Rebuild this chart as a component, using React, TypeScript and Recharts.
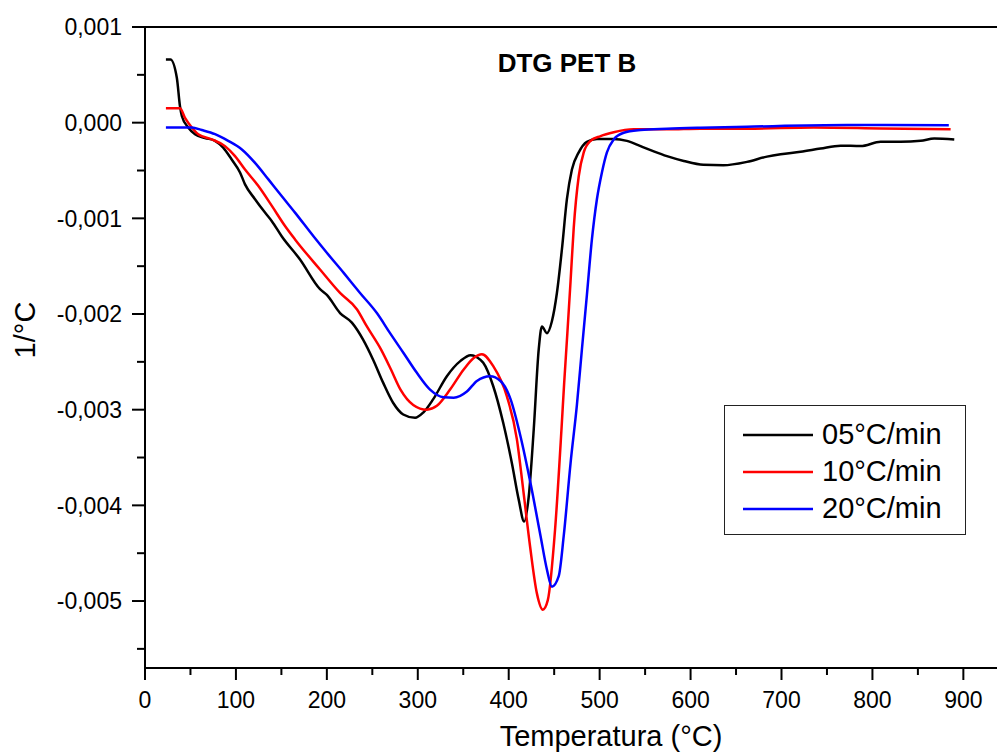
import React from 'react';
import { LineChart, Line, XAxis, YAxis, ReferenceLine, Legend } from 'recharts';

const FONT = '"Liberation Sans", Arial, Helvetica, sans-serif';

// 05 °C/min
const temp05 = [23, 28, 35, 38.5, 40.5, 47.5, 55, 66, 77, 86, 95, 104.5, 110, 121, 132, 139.5, 150.5, 170.5, 192.5, 200, 214.5, 227.5, 240, 251, 262, 273, 284, 297, 306, 317, 332, 347, 358, 369, 372, 383, 394, 403.5, 411, 417, 422, 427.5, 433, 436.5, 442, 447.5, 453, 458.5, 464, 469.5, 477, 486, 497, 515, 530, 545, 559.5, 574, 592.5, 614, 636, 662, 684, 699, 721, 743, 765, 787, 809, 831, 853, 868, 890];
const dtg05 = [0.00066, 0.00066, 0.00047, 0.00017, 0.00007, -0.00005, -0.00012, -0.00016, -0.00019, -0.00026, -0.00038, -0.00052, -0.000645, -0.0008, -0.00094, -0.00103, -0.00119, -0.00143, -0.00174, -0.0018, -0.00199, -0.00209, -0.00227, -0.00248, -0.00272, -0.00293, -0.00305, -0.003085, -0.00303, -0.00289, -0.00265, -0.00249, -0.00243, -0.00248, -0.00251, -0.002755, -0.00314, -0.00356, -0.00394, -0.00417, -0.00391, -0.00321, -0.00237, -0.00213, -0.0022, -0.002075, -0.00178, -0.001325, -0.0008, -0.00049, -0.00031, -0.0002, -0.00017, -0.00017, -0.00019, -0.000245, -0.0003, -0.00035, -0.0004, -0.00044, -0.000445, -0.00041, -0.000355, -0.00033, -0.000305, -0.00027, -0.00024, -0.000245, -0.0002, -0.0002, -0.00019, -0.000165, -0.000175];

// 10 °C/min
const temp10 = [23, 38.5, 44, 51.5, 58.5, 73.5, 88, 99, 110, 124.5, 139.5, 154, 165, 192.5, 214.5, 233, 244, 259.5, 270.5, 281, 295, 310, 321, 335.5, 350.5, 361.5, 370.5, 383, 398, 409, 416, 423.5, 431, 437.5, 443, 451, 458, 461, 464.5, 468, 471.5, 477, 482.5, 490, 501, 515.5, 537.5, 574, 611, 662, 735.5, 809, 886];
const dtg10 = [0.00015, 0.00015, 0.00005, -0.00005, -0.00012, -0.000175, -0.000245, -0.00035, -0.00049, -0.00066, -0.00087, -0.00108, -0.00122, -0.001535, -0.00178, -0.00195, -0.00213, -0.00237, -0.00258, -0.00279, -0.00295, -0.003, -0.00296, -0.00279, -0.00258, -0.00246, -0.00242, -0.002545, -0.00286, -0.00331, -0.00384, -0.00443, -0.00492, -0.00509, -0.00499, -0.00425, -0.00321, -0.00272, -0.0022, -0.00166, -0.0011, -0.00056, -0.00031, -0.00019, -0.00014, -0.0001, -0.00007, -0.00007, -0.000063, -0.000063, -0.00005, -0.00006, -0.00007];

// 20 °C/min
const temp20 = [23, 51.5, 62.5, 77, 91.5, 106.5, 121, 135.5, 150.5, 165, 185.5, 200, 218.5, 236.5, 255, 269.5, 284.5, 299, 313.5, 328.5, 339.5, 354, 365, 379.5, 391, 402, 413, 424, 435, 442, 447.5, 455, 460.5, 468, 475, 480.5, 486, 491.5, 497, 502.5, 508, 515.5, 526.5, 545, 574, 611, 662, 772, 884];
const dtg20 = [-0.00005, -0.00005, -0.000077, -0.00012, -0.00019, -0.00028, -0.00042, -0.00059, -0.00077, -0.00094, -0.00119, -0.00136, -0.00157, -0.00178, -0.00199, -0.0022, -0.00241, -0.002615, -0.00279, -0.00287, -0.002875, -0.00281, -0.0027, -0.00265, -0.0027, -0.00289, -0.00328, -0.00377, -0.00432, -0.00467, -0.00485, -0.00474, -0.00432, -0.00356, -0.00295, -0.00237, -0.0018, -0.00122, -0.0008, -0.00052, -0.00031, -0.000175, -0.000105, -0.000077, -0.000063, -0.000052, -0.000042, -0.000025, -0.000028];

const xTicks = [0, 50, 100, 150, 200, 250, 300, 350, 400, 450, 500, 550, 600, 650, 700, 750, 800, 850, 900];
const yTicks = [-0.0055, -0.005, -0.0045, -0.004, -0.0035, -0.003, -0.0025, -0.002, -0.0015, -0.001, -0.0005, 0, 0.0005, 0.001];

const toRows = (t: number[], v: number[]) => t.map((x, i) => ({ temp: x, dtg: v[i] }));

const fmtY = (v: number) => v.toFixed(3).replace('.', ',');

const YTick = (props: any) => {
  const { x, y, payload } = props;
  const v = payload.value;
  const major = Math.round(v * 2000) % 2 === 0;
  return (
    <g>
      <line x1={x - (major ? 13 : 8)} x2={x} y1={y} y2={y} stroke="#000" strokeWidth={2} />
      {major && (
        <text x={x - 23} y={y} dy="0.36em" textAnchor="end" fontSize={23} fontFamily={FONT} fill="#000">
          {fmtY(v)}
        </text>
      )}
    </g>
  );
};

const XTick = (props: any) => {
  const { x, y, payload } = props;
  const major = payload.value % 100 === 0;
  return (
    <g>
      <line x1={x} x2={x} y1={y} y2={y + (major ? 12 : 7)} stroke="#000" strokeWidth={2} />
      {major && (
        <text x={x} y={y + 40} textAnchor="middle" fontSize={23} fontFamily={FONT} fill="#000">
          {payload.value}
        </text>
      )}
    </g>
  );
};

const LegendBox = ({ payload }: any) => (
  <div
    style={{
      width: 242,
      height: 130,
      boxSizing: 'border-box',
      border: '1.5px solid #222',
      background: '#fff',
      paddingTop: 10,
      fontFamily: FONT,
      fontSize: 29,
      color: '#000',
    }}
  >
    {(payload || []).map((p: any) => (
      <div key={p.value} style={{ display: 'flex', alignItems: 'center', height: 37 }}>
        <svg width={88} height={6} style={{ flex: 'none' }}>
          <line x1={18} x2={88} y1={3} y2={3} stroke={p.color} strokeWidth={2.5} />
        </svg>
        <span style={{ marginLeft: 9, lineHeight: '37px' }}>{p.value}</span>
      </div>
    ))}
  </div>
);

export default function App() {
  return (
    <div style={{ position: 'absolute', left: 0, top: 0, width: 997, height: 753, overflow: 'hidden', background: '#fff' }}>
      <LineChart width={997} height={753} margin={{ top: 27, right: 0, bottom: 0, left: 0 }}>
        <XAxis
          type="number"
          dataKey="temp"
          domain={[0, 937]}
          ticks={xTicks}
          interval={0}
          height={85}
          tickSize={0}
          tickMargin={0}
          tickLine={false}
          axisLine={{ stroke: '#000', strokeWidth: 2 }}
          tick={<XTick />}
          label={{
            content: () => (
              <text x={611} y={746} textAnchor="middle" fontSize={29} fontFamily={FONT} fill="#000">
                Temperatura (°C)
              </text>
            ),
          }}
        />
        <YAxis
          type="number"
          domain={[-0.0057, 0.001]}
          ticks={yTicks}
          interval={0}
          width={145}
          tickSize={0}
          tickMargin={0}
          tickLine={false}
          axisLine={{ stroke: '#000', strokeWidth: 2 }}
          tick={<YTick />}
          label={{
            content: () => (
              <text x={35} y={330} transform="rotate(-90, 35, 330)" textAnchor="middle" fontSize={29} fontFamily={FONT} fill="#000">
                1/°C
              </text>
            ),
          }}
        />
        <ReferenceLine
          y={0.001}
          stroke="#000"
          strokeWidth={2}
          label={{
            content: () => (
              <text x={567} y={72} textAnchor="middle" fontSize={26} fontWeight="bold" fontFamily={FONT} fill="#000">
                DTG PET B
              </text>
            ),
          }}
        />
        <Legend
          layout="vertical"
          align="center"
          verticalAlign="middle"
          content={<LegendBox />}
          wrapperStyle={{ left: 724, top: 405, width: 242, height: 130 }}
        />
        <Line name="05°C/min" data={toRows(temp05, dtg05)} dataKey="dtg" type="monotone" stroke="#000000" strokeWidth={2.5} dot={false} activeDot={false} isAnimationActive={false} />
        <Line name="10°C/min" data={toRows(temp10, dtg10)} dataKey="dtg" type="monotone" stroke="#ff0000" strokeWidth={2.5} dot={false} activeDot={false} isAnimationActive={false} />
        <Line name="20°C/min" data={toRows(temp20, dtg20)} dataKey="dtg" type="monotone" stroke="#0000ff" strokeWidth={2.5} dot={false} activeDot={false} isAnimationActive={false} />
      </LineChart>
    </div>
  );
}
